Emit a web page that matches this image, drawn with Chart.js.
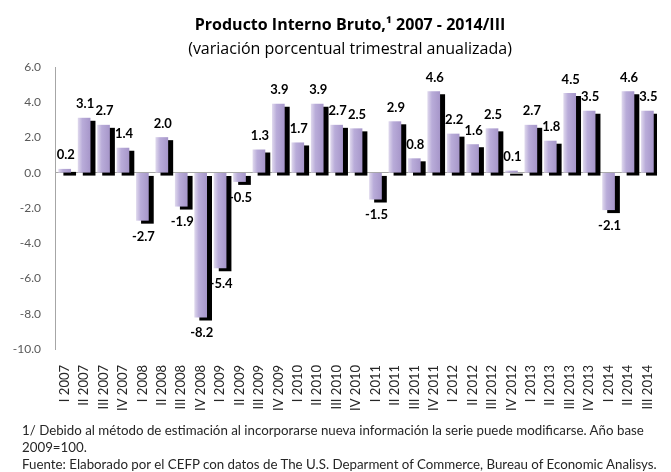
<!DOCTYPE html>
<html>
<head>
<meta charset="utf-8">
<script src="https://cdn.jsdelivr.net/npm/chart.js@4.4.1/dist/chart.umd.min.js"></script>
<style>
  body { margin: 0; background: #fff; width: 671px; height: 472px; overflow: hidden; position: relative; font-family: Lato, "Open Sans", sans-serif; }
  #chartBox { position: absolute; left: 0; top: 0; width: 671px; height: 472px; }
  .ttl { position: absolute; left: 0; width: 700px; text-align: center; color: #000; font-family: "Open Sans", sans-serif; font-size: 16px; line-height: 20px; white-space: nowrap; }
  .note { position: absolute; left: 22px; font-size: 13.3px; line-height: 17px; color: #262626; white-space: nowrap; }
</style>
</head>
<body>
<div id="chartBox"><canvas id="gdpChart" width="671" height="472"></canvas></div>
<div class="ttl" style="top:14px;font-weight:bold;">Producto Interno Bruto,¹ 2007 - 2014/III</div>
<div class="ttl" style="top:38px;">(variación porcentual trimestral anualizada)</div>
<div class="note" style="top:422px;">1/ Debido al método de estimación al incorporarse nueva información la serie puede modificarse. Año base<br>2009=100.<br>Fuente: Elaborado por el CEFP con datos de The U.S. Deparment of Commerce, Bureau of Economic Analisys.</div>
<script>
var quarters = ['I 2007', 'II 2007', 'III 2007', 'IV 2007',
    'I 2008', 'II 2008', 'III 2008', 'IV 2008',
    'I 2009', 'II 2009', 'III 2009', 'IV 2009',
    'I 2010', 'II 2010', 'III 2010', 'IV 2010',
    'I 2011', 'II 2011', 'III 2011', 'IV 2011',
    'I 2012', 'II 2012', 'III 2012', 'IV 2012',
    'I 2013', 'II 2013', 'III 2013', 'IV 2013',
    'I 2014', 'II 2014', 'III 2014'];
var growth = [0.2, 3.1, 2.7, 1.4,
    -2.7, 2.0, -1.9, -8.2,
    -5.4, -0.5, 1.3, 3.9,
    1.7, 3.9, 2.7, 2.5,
    -1.5, 2.9, 0.8, 4.6,
    2.2, 1.6, 2.5, 0.1,
    2.7, 1.8, 4.5, 3.5,
    -2.1, 4.6, 3.5];
var yTicks = [-10, -8, -6, -4, -2, 0, 2, 4, 6];

var axisGray = '#a6a6a6';

// black drop shadow behind each bar
var barShadow = {
    id: 'barShadow',
    beforeDatasetsDraw: function (chart) {
        var c = chart.ctx;
        c.save();
        c.shadowColor = '#000';
        c.shadowOffsetX = 5;
        c.shadowOffsetY = 3;
        c.shadowBlur = 0;
    },
    afterDatasetsDraw: function (chart) {
        chart.ctx.restore();
    }
};

// value labels above / below bars
var valueLabels = {
    id: 'valueLabels',
    afterDraw: function (chart) {
        var c = chart.ctx;
        var meta = chart.getDatasetMeta(0);
        c.save();
        c.shadowColor = 'transparent';
        c.font = 'bold 13px Lato, "Open Sans", sans-serif';
        c.fillStyle = '#000';
        c.textAlign = 'center';
        c.textBaseline = 'middle';
        meta.data.forEach(function (bar, i) {
            var v = growth[i];
            var y = v >= 0 ? bar.y - 14 : bar.y + 16;
            c.fillText(v.toFixed(1), bar.x + 1, y);
        });
        c.restore();
    }
};

var ctx = document.getElementById('gdpChart').getContext('2d');
new Chart(ctx, {
    type: 'bar',
    data: {
        labels: quarters,
        datasets: [{
            data: growth,
            barThickness: 12,
            borderWidth: 0,
            backgroundColor: function (context) {
                var chart = context.chart;
                if (!chart.chartArea || !chart.scales.x) return '#b4a6d5';
                var x = chart.scales.x.getPixelForValue(context.dataIndex);
                var g = chart.ctx.createLinearGradient(x - 6, 0, x + 6, 0);
                g.addColorStop(0, '#ddd6ec');
                g.addColorStop(0.35, '#b9acd9');
                g.addColorStop(1, '#a797ca');
                return g;
            }
        }]
    },
    options: {
        responsive: false,
        animation: false,
        layout: { padding: { top: 67, right: 0, left: 0, bottom: 0 } },
        plugins: { legend: { display: false }, tooltip: { enabled: false } },
        scales: {
            x: {
                grid: { display: false },
                border: { display: false },
                ticks: {
                    autoSkip: false,
                    minRotation: 90,
                    maxRotation: 90,
                    padding: 8,
                    color: '#262626',
                    font: { size: 13, family: 'Lato, "Open Sans", sans-serif' }
                },
                afterFit: function (s) { s.height = 123; }
            },
            y: {
                min: -10,
                max: 6,
                afterBuildTicks: function (s) {
                    s.ticks = yTicks.map(function (v) { return { value: v }; });
                },
                grid: {
                    drawTicks: false,
                    color: function (c) { return c.tick && c.tick.value === 0 ? axisGray : 'rgba(0,0,0,0)'; }
                },
                border: { color: axisGray },
                ticks: {
                    padding: 14,
                    color: '#595959',
                    font: { size: 12, family: 'Lato, "Open Sans", sans-serif' },
                    callback: function (v) { return Number(v).toFixed(1); }
                },
                afterFit: function (s) { s.width = 55; }
            }
        }
    },
    plugins: [barShadow, valueLabels]
});
</script>
</body>
</html>
